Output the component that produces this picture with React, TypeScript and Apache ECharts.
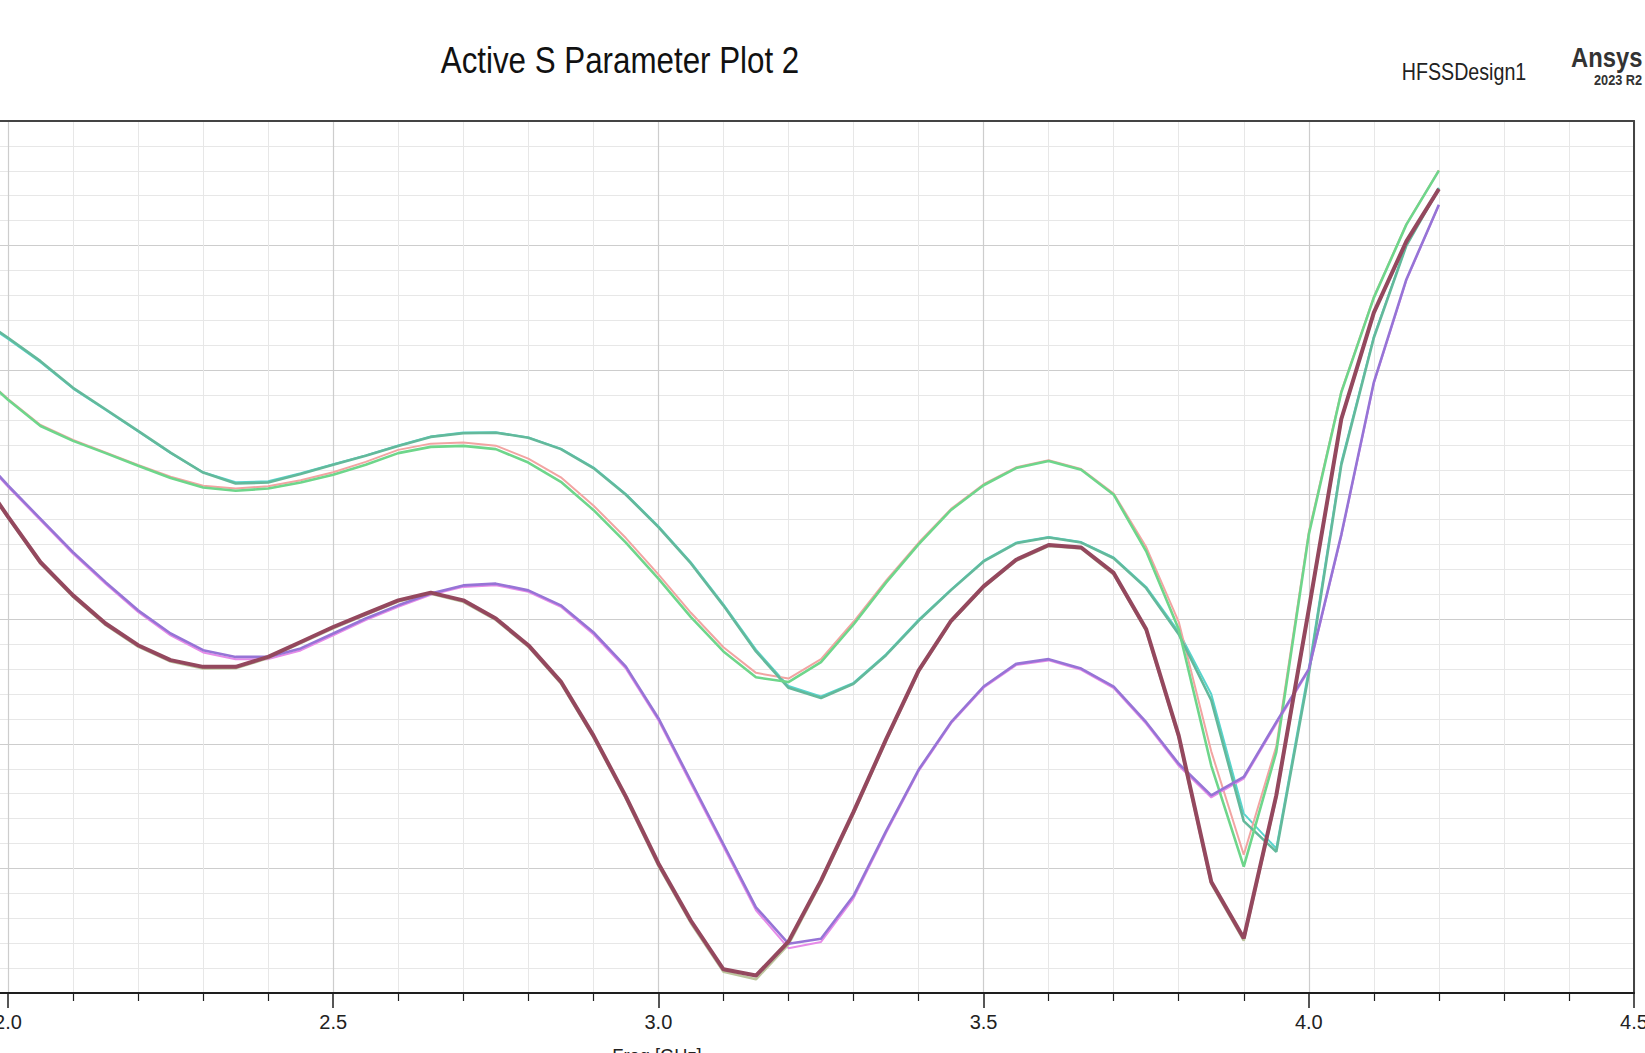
import React, { useEffect, useRef } from "react";
import * as echarts from "echarts";

const freqs = [
  1.95, 2.0, 2.05, 2.1, 2.15, 2.2, 2.25, 2.3, 2.35, 2.4, 2.45, 2.5, 2.55, 2.6, 2.65, 2.7,
  2.75, 2.8, 2.85, 2.9, 2.95, 3.0, 3.05, 3.1, 3.15, 3.2, 3.25, 3.3, 3.35, 3.4, 3.45, 3.5,
  3.55, 3.6, 3.65, 3.7, 3.75, 3.8, 3.85, 3.9, 3.95, 4.0, 4.05, 4.1, 4.15, 4.2,
];

const tealMain = [
  -7.8, -8.7, -9.64, -10.71, -11.57, -12.44, -13.31, -14.11, -14.55, -14.51, -14.17, -13.8,
  -13.44, -13.04, -12.68, -12.53, -12.51, -12.71, -13.17, -13.93, -15.0, -16.3, -17.76, -19.45,
  -21.29, -22.75, -23.16, -22.59, -21.44, -20.06, -18.83, -17.68, -16.95, -16.72, -16.92, -17.55,
  -18.75, -20.6, -23.25, -28.1, -29.33, -22.2, -13.8, -8.7, -5.0, -2.7,
];
const tealShadow = [
  -7.85, -8.75, -9.68, -10.74, -11.6, -12.46, -13.33, -14.1, -14.5, -14.46, -14.14, -13.78,
  -13.42, -13.02, -12.66, -12.5, -12.49, -12.7, -13.15, -13.9, -14.97, -16.26, -17.72, -19.4,
  -21.22, -22.68, -23.1, -22.55, -21.4, -20.02, -18.8, -17.65, -16.92, -16.7, -16.9, -17.52,
  -18.7, -20.5, -23.0, -27.8, -29.2, -22.0, -13.7, -8.65, -4.97, -2.68,
];
const greenMain = [
  -10.0, -11.19, -12.24, -12.84, -13.33, -13.84, -14.33, -14.71, -14.84, -14.75, -14.51, -14.2,
  -13.8, -13.33, -13.08, -13.04, -13.17, -13.71, -14.48, -15.61, -16.92, -18.37, -19.91, -21.29,
  -22.33, -22.52, -21.72, -20.21, -18.53, -16.99, -15.61, -14.62, -13.93, -13.65, -14.0, -15.0,
  -17.27, -20.4, -25.87, -29.93, -25.33, -16.6, -10.89, -7.09, -4.16, -1.99,
];
const greenShadow = [
  -9.98, -11.16, -12.2, -12.8, -13.3, -13.8, -14.28, -14.64, -14.75, -14.66, -14.42, -14.1,
  -13.68, -13.2, -12.95, -12.9, -13.03, -13.55, -14.3, -15.43, -16.74, -18.2, -19.74, -21.12,
  -22.15, -22.38, -21.6, -20.1, -18.45, -16.93, -15.57, -14.58, -13.9, -13.62, -13.97, -14.95,
  -17.1, -20.1, -25.3, -29.45, -25.1, -16.5, -10.85, -7.06, -4.14, -1.98,
];
const purpleMain = [
  -13.2, -14.63, -15.97, -17.31, -18.51, -19.64, -20.57, -21.24, -21.51, -21.51, -21.17, -20.57,
  -19.97, -19.44, -18.97, -18.64, -18.57, -18.84, -19.44, -20.52, -21.9, -23.97, -26.5, -29.03,
  -31.56, -33.02, -32.82, -31.1, -28.5, -26.04, -24.13, -22.7, -21.79, -21.6, -21.98, -22.7,
  -24.13, -25.8, -27.07, -26.33, -24.13, -22.0, -16.6, -10.49, -6.36, -3.36,
];
const purpleShadow = [
  -13.25, -14.68, -16.03, -17.37, -18.57, -19.71, -20.65, -21.33, -21.6, -21.6, -21.25, -20.64,
  -20.03, -19.5, -19.02, -18.7, -18.63, -18.9, -19.5, -20.6, -21.98, -24.05, -26.6, -29.13,
  -31.68, -33.2, -32.95, -31.2, -28.58, -26.1, -24.18, -22.75, -21.84, -21.65, -22.03, -22.76,
  -24.2, -25.88, -27.15, -26.4, -24.2, -22.05, -16.65, -10.52, -6.39, -3.38,
];
const maroonMain = [
  -14.0, -15.88, -17.71, -19.04, -20.17, -21.04, -21.64, -21.91, -21.91, -21.51, -20.91, -20.31,
  -19.77, -19.24, -18.93, -19.24, -19.97, -21.04, -22.5, -24.66, -27.12, -29.8, -32.1, -34.05,
  -34.3, -32.94, -30.49, -27.73, -24.82, -22.06, -20.06, -18.68, -17.61, -17.02, -17.12, -18.14,
  -20.4, -24.67, -30.53, -32.8, -27.07, -19.6, -11.96, -7.69, -4.83, -2.73,
];
const maroonShadow = [
  -14.05, -15.93, -17.77, -19.1, -20.23, -21.1, -21.7, -21.98, -21.97, -21.56, -20.96, -20.36,
  -19.82, -19.29, -18.98, -19.3, -20.03, -21.1, -22.57, -24.74, -27.2, -29.9, -32.2, -34.15,
  -34.45, -33.06, -30.57, -27.8, -24.88, -22.11, -20.1, -18.72, -17.65, -17.06, -17.16, -18.2,
  -20.47, -24.75, -30.62, -32.9, -27.15, -19.66, -12.0, -7.72, -4.86, -2.75,
];

const xTickLabels = ["2.0", "2.5", "3.0", "3.5", "4.0", "4.5"];

const seriesDefs = [
  { name: "ActiveS(2:1)", values: tealShadow, color: "#58d4cc", width: 2 },
  { name: "ActiveS(2:2)", values: greenShadow, color: "#f2a4a2", width: 2 },
  { name: "ActiveS(4:1)", values: purpleShadow, color: "#e68ae8", width: 2 },
  { name: "ActiveS(4:2)", values: maroonShadow, color: "#bcc59e", width: 2.5 },
  { name: "ActiveS(1:1)", values: tealMain, color: "#63b99b", width: 2.6 },
  { name: "ActiveS(1:2)", values: greenMain, color: "#6ed68b", width: 2.6 },
  { name: "ActiveS(3:1)", values: purpleMain, color: "#9674d6", width: 2.6 },
  { name: "ActiveS(3:2)", values: maroonMain, color: "#94485e", width: 4 },
];

const FONT = '"Liberation Sans", Arial, sans-serif';

// layout (pixels)
const W = 1645;
const PLOT_RIGHT = 11;
const PLOT_TOP = 121;
const PLOT_BOTTOM = 60;
const AXIS_LEFT = 8; // where 2.0 GHz sits
const X_MIN = 2.0;
const X_MAX = 4.5;
// the visible plot area reaches the picture's left edge, a little left of 2.0 GHz
const pxPerGHz = (W - PLOT_RIGHT - AXIS_LEFT) / (X_MAX - X_MIN);
const X_MIN_DRAW = X_MIN - AXIS_LEFT / pxPerGHz;

export default function App() {
  const ref = useRef<HTMLDivElement>(null);

  useEffect(() => {
    if (!ref.current) return;
    const chart = echarts.init(ref.current, undefined, { renderer: "svg" });
    const option = {
      animation: false,
      backgroundColor: "#ffffff",
      grid: [
        {
          left: 0,
          right: PLOT_RIGHT,
          top: PLOT_TOP,
          bottom: PLOT_BOTTOM,
          containLabel: false,
          outerBoundsMode: "none",
        },
        {
          left: AXIS_LEFT,
          right: PLOT_RIGHT,
          top: PLOT_TOP,
          bottom: PLOT_BOTTOM,
          containLabel: false,
          outerBoundsMode: "none",
        },
      ],
      xAxis: [
        {
          gridIndex: 0,
          type: "value",
          position: "bottom",
          min: X_MIN_DRAW,
          max: X_MAX,
          axisLine: { show: true, onZero: false, lineStyle: { color: "#1e1e1e", width: 2 } },
          axisTick: { show: false },
          axisLabel: { show: false },
          splitLine: { show: false },
        },
        {
          gridIndex: 0,
          type: "value",
          position: "top",
          min: X_MIN_DRAW,
          max: X_MAX,
          axisLine: { show: true, onZero: false, lineStyle: { color: "#444", width: 2 } },
          axisTick: { show: false },
          axisLabel: { show: false },
          splitLine: { show: false },
        },
        {
          gridIndex: 1,
          type: "value",
          position: "bottom",
          min: X_MIN,
          max: X_MAX,
          interval: 0.5,
          axisLine: { show: false, onZero: false },
          axisTick: { show: true, length: 15, lineStyle: { color: "#1e1e1e", width: 1.5 } },
          minorTick: { show: true, splitNumber: 5, length: 8, lineStyle: { color: "#1e1e1e", width: 1.2 } },
          axisLabel: {
            show: true,
            margin: 19,
            fontSize: 20,
            fontFamily: FONT,
            color: "#222",
            hideOverlap: false,
            formatter: (v: number) => {
              const s = v.toFixed(1);
              return xTickLabels.indexOf(s) >= 0 ? s : "";
            },
          },
          splitLine: { show: true, lineStyle: { color: "#cdcdcd", width: 1.2 } },
          minorSplitLine: { show: true, lineStyle: { color: "#e7e7e7", width: 1 } },
        },
      ],
      yAxis: [
        {
          gridIndex: 0,
          type: "value",
          min: -35,
          max: 0,
          interval: 5,
          axisLine: { show: false, onZero: false },
          axisTick: { show: false },
          axisLabel: { show: false },
          splitLine: { show: true, lineStyle: { color: "#cdcdcd", width: 1.2 } },
          minorTick: { show: false, splitNumber: 5 },
          minorSplitLine: { show: true, lineStyle: { color: "#e7e7e7", width: 1 } },
        },
        {
          gridIndex: 0,
          type: "value",
          position: "right",
          min: -35,
          max: 0,
          interval: 5,
          axisLine: { show: true, onZero: false, lineStyle: { color: "#444", width: 2 } },
          axisTick: { show: false },
          axisLabel: { show: false },
          splitLine: { show: false },
        },
        {
          gridIndex: 1,
          type: "value",
          min: -35,
          max: 0,
          interval: 5,
          axisLine: { show: false, onZero: false },
          axisTick: { show: false },
          axisLabel: { show: false },
          splitLine: { show: false },
        },
      ],
      series: seriesDefs.map((s) => ({
        name: s.name,
        type: "line",
        xAxisIndex: 0,
        yAxisIndex: 0,
        showSymbol: false,
        symbol: "none",
        silent: true,
        data: freqs.map((f, i) => [f, s.values[i]]),
        lineStyle: { color: s.color, width: s.width },
        itemStyle: { color: s.color },
      })),
      graphic: [
        {
          type: "text",
          x: 620,
          y: 60,
          scaleX: 0.87,
          style: {
            text: "Active S Parameter Plot 2",
            fontSize: 36,
            fontFamily: FONT,
            fill: "#111",
            align: "center",
            verticalAlign: "middle",
          },
        },
        {
          type: "text",
          x: 1464,
          y: 72,
          scaleX: 0.855,
          style: {
            text: "HFSSDesign1",
            fontSize: 23,
            fontFamily: FONT,
            fill: "#222",
            align: "center",
            verticalAlign: "middle",
          },
        },
        {
          type: "text",
          x: 1571,
          y: 57,
          scaleX: 0.85,
          style: {
            text: "Ansys",
            fontSize: 28,
            fontWeight: "bold",
            fontFamily: FONT,
            fill: "#333",
            align: "left",
            verticalAlign: "middle",
          },
        },
        {
          type: "text",
          x: 1594,
          y: 80,
          scaleX: 0.85,
          style: {
            text: "2023 R2",
            fontSize: 15,
            fontWeight: "bold",
            fontFamily: FONT,
            fill: "#333",
            align: "left",
            verticalAlign: "middle",
          },
        },
        {
          type: "text",
          x: 657,
          y: 1045,
          scaleX: 0.87,
          style: {
            text: "Freq [GHz]",
            fontSize: 21,
            fontFamily: FONT,
            fill: "#222",
            align: "center",
            verticalAlign: "top",
          },
        },
      ],
    };
    chart.setOption(option as any);
    return () => {
      chart.dispose();
    };
  }, []);

  return (
    <div
      ref={ref}
      style={{
        position: "absolute",
        left: 0,
        top: 0,
        width: 1645,
        height: 1053,
        overflow: "hidden",
        background: "#ffffff",
      }}
    />
  );
}
